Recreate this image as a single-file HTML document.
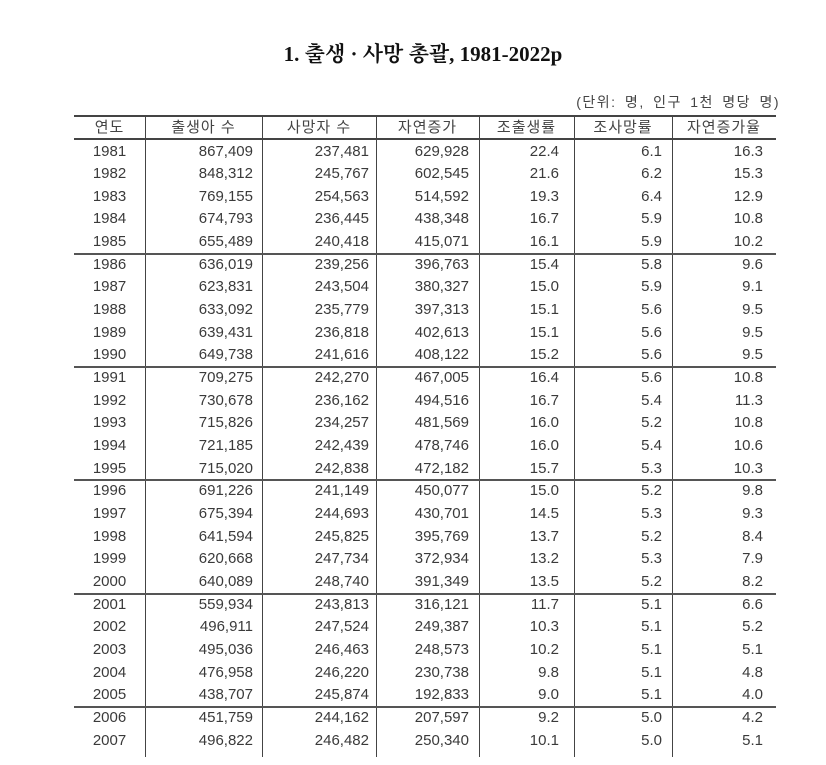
<!DOCTYPE html>
<html><head><meta charset="utf-8"><style>
body{margin:0;width:826px;height:765px;background:#fff;overflow:hidden;position:relative;font-family:"Liberation Sans","Noto Sans CJK KR",sans-serif;color:#3a3a3a}
.title{position:absolute;top:38px;left:0;width:846px;text-align:center;font-family:"Liberation Serif","Noto Serif CJK SC","Noto Sans CJK KR",serif;font-weight:bold;font-size:21px;color:#111}
.unit{position:absolute;top:92px;right:46px;font-size:14px;letter-spacing:1.5px;word-spacing:3px;color:#444}
.clip{position:absolute;left:0;top:0;width:826px;height:757px;overflow:hidden}
.hl{position:absolute;left:74px;width:702px;background:#444}
.vl{position:absolute;top:115px;height:650px;width:1px;background:#444}
.c{position:absolute;font-size:15px;line-height:22.66px;height:22.66px;white-space:nowrap}
.h{position:absolute;font-size:15px;top:116px;line-height:23px;text-align:center;color:#444;letter-spacing:1px}
</style></head><body>
<div class="title">1. 출생 · 사망 총괄, 1981-2022p</div>
<div class="unit">(단위: 명, 인구 1천 명당 명)</div>
<div class="clip">
<div class="hl" style="top:115px;height:2px"></div>
<div class="hl" style="top:138px;height:2px"></div>
<div class="vl" style="left:145px"></div>
<div class="vl" style="left:262px"></div>
<div class="vl" style="left:376px"></div>
<div class="vl" style="left:479px"></div>
<div class="vl" style="left:574px"></div>
<div class="vl" style="left:672px"></div>
<div class="h" style="left:74px;width:71px">연도</div>
<div class="h" style="left:145px;width:117px">출생아 수</div>
<div class="h" style="left:262px;width:114px">사망자 수</div>
<div class="h" style="left:376px;width:103px">자연증가</div>
<div class="h" style="left:479px;width:95px">조출생률</div>
<div class="h" style="left:574px;width:98px">조사망률</div>
<div class="h" style="left:672px;width:104px">자연증가율</div>
<div id="rows"></div>
</div>
<script>
var d=[
[1981,"867,409","237,481","629,928","22.4","6.1","16.3"],
[1982,"848,312","245,767","602,545","21.6","6.2","15.3"],
[1983,"769,155","254,563","514,592","19.3","6.4","12.9"],
[1984,"674,793","236,445","438,348","16.7","5.9","10.8"],
[1985,"655,489","240,418","415,071","16.1","5.9","10.2"],
[1986,"636,019","239,256","396,763","15.4","5.8","9.6"],
[1987,"623,831","243,504","380,327","15.0","5.9","9.1"],
[1988,"633,092","235,779","397,313","15.1","5.6","9.5"],
[1989,"639,431","236,818","402,613","15.1","5.6","9.5"],
[1990,"649,738","241,616","408,122","15.2","5.6","9.5"],
[1991,"709,275","242,270","467,005","16.4","5.6","10.8"],
[1992,"730,678","236,162","494,516","16.7","5.4","11.3"],
[1993,"715,826","234,257","481,569","16.0","5.2","10.8"],
[1994,"721,185","242,439","478,746","16.0","5.4","10.6"],
[1995,"715,020","242,838","472,182","15.7","5.3","10.3"],
[1996,"691,226","241,149","450,077","15.0","5.2","9.8"],
[1997,"675,394","244,693","430,701","14.5","5.3","9.3"],
[1998,"641,594","245,825","395,769","13.7","5.2","8.4"],
[1999,"620,668","247,734","372,934","13.2","5.3","7.9"],
[2000,"640,089","248,740","391,349","13.5","5.2","8.2"],
[2001,"559,934","243,813","316,121","11.7","5.1","6.6"],
[2002,"496,911","247,524","249,387","10.3","5.1","5.2"],
[2003,"495,036","246,463","248,573","10.2","5.1","5.1"],
[2004,"476,958","246,220","230,738","9.8","5.1","4.8"],
[2005,"438,707","245,874","192,833","9.0","5.1","4.0"],
[2006,"451,759","244,162","207,597","9.2","5.0","4.2"],
[2007,"496,822","246,482","250,340","10.1","5.0","5.1"],
[2008,"465,892","246,113","219,779","9.4","5.0","4.4"]];
var R=[253,369,469,559,662,763],h="";
for(var i=0;i<d.length;i++){var y=140.5+i*22.66;
if(i>0&&i%5==0)h+='<div class="hl" style="top:'+(y-1)+'px;height:2px;background:#555"></div>';
h+='<div class="c" style="top:'+y+'px;left:74px;width:71px;text-align:center">'+d[i][0]+'</div>';
for(var j=0;j<6;j++)h+='<div class="c" style="top:'+y+'px;right:'+(826-R[j])+'px;text-align:right">'+d[i][j+1]+'</div>';}
document.getElementById("rows").innerHTML=h;
</script>
</body></html>
